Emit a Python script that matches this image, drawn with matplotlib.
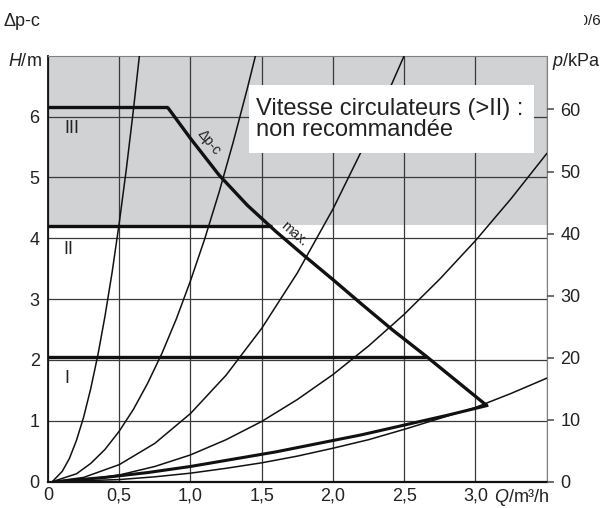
import matplotlib.pyplot as plt
from matplotlib.patches import Rectangle

plt.rcParams['font.family'] = ['Liberation Sans', 'DejaVu Sans']
plt.rcParams['mathtext.fontset'] = 'custom'
plt.rcParams['mathtext.rm'] = 'Liberation Sans'
plt.rcParams['mathtext.it'] = 'Liberation Sans:italic'

# pump speed curves (H in m, Q in m3/h)
q_III = [0, 0.84]
h_III = [6.15, 6.15]
q_II = [0, 1.57]
h_II = [4.20, 4.20]
q_I = [0, 2.66]
h_I = [2.05, 2.05]

# delta p-c / max line
q_max = [0.84, 1.0, 1.2, 1.4, 1.6, 1.8, 2.0, 2.2, 2.42, 2.66, 3.08]
h_max = [6.15, 5.64, 5.04, 4.54, 4.11, 3.71, 3.32, 2.92, 2.49, 2.05, 1.25]

# lower thick line (back to origin)
q_low = [3.08, 2.8, 2.5, 2.2, 1.9, 1.6, 1.3, 1.0, 0.7, 0.4, 0.15, 0.08]
h_low = [1.25, 1.09, 0.93, 0.77, 0.63, 0.49, 0.37, 0.25, 0.15, 0.07, 0.02, 0.0]

# system curves
q_s1 = [0.03, 0.1, 0.15, 0.2, 0.25, 0.3, 0.35, 0.4, 0.45, 0.5, 0.55, 0.6, 0.65]
h_s1 = [0.0, 0.17, 0.38, 0.68, 1.06, 1.53, 2.08, 2.72, 3.44, 4.25, 5.14, 6.12, 7.18]
q_s2 = [0.03, 0.2, 0.3, 0.4, 0.5, 0.6, 0.7, 0.8, 0.9, 1.0, 1.1, 1.2, 1.3, 1.4, 1.47]
h_s2 = [0.0, 0.13, 0.30, 0.53, 0.83, 1.19, 1.62, 2.11, 2.67, 3.3, 3.99, 4.75, 5.58, 6.47, 7.13]
q_s3 = [0.03, 0.25, 0.5, 0.75, 1.0, 1.25, 1.5, 1.75, 2.0, 2.25, 2.5, 2.55]
h_s3 = [0.0, 0.07, 0.28, 0.63, 1.12, 1.75, 2.52, 3.43, 4.48, 5.67, 7.0, 7.28]
q_s4 = [0.03, 0.25, 0.5, 0.75, 1.0, 1.25, 1.5, 1.75, 2.0, 2.25, 2.5, 2.75, 3.0, 3.25, 3.5]
h_s4 = [0.0, 0.03, 0.11, 0.25, 0.44, 0.69, 0.99, 1.35, 1.76, 2.23, 2.75, 3.33, 3.96, 4.65, 5.39]
q_s5 = [0.05, 0.5, 0.75, 1.0, 1.25, 1.5, 1.75, 2.0, 2.25, 2.5, 2.75, 3.0, 3.25, 3.5]
h_s5 = [0.0, 0.035, 0.08, 0.14, 0.22, 0.31, 0.42, 0.55, 0.69, 0.86, 1.04, 1.22, 1.45, 1.70]

x_ticks = [0, 0.5, 1.0, 1.5, 2.0, 2.5, 3.0, 3.5]
x_labels = ['0', '0,5', '1,0', '1,5', '2,0', '2,5', '3,0', '']
y_ticks = [0, 1, 2, 3, 4, 5, 6]
p_ticks = [0, 10, 20, 30, 40, 50, 60]

fig = plt.figure(figsize=(6.13, 5.08), dpi=100)
ax = fig.add_axes([0.0783, 0.0518, 0.8135, 0.8386])
ax.set_xlim(0, 3.5)
ax.set_ylim(0, 7)

ax.axhspan(4.22, 7, color='#d1d2d4', zorder=0, lw=0)
ax.set_axisbelow(True)
ax.grid(True, color='#3a3a3a', lw=0.9)

thin = dict(color='#111111', lw=1.1, zorder=3)
for q, h in [(q_s1, h_s1), (q_s2, h_s2), (q_s3, h_s3), (q_s4, h_s4), (q_s5, h_s5)]:
    ax.plot(q, h, **thin)

thick = dict(color='#111111', lw=2.4, zorder=4, solid_capstyle='butt')
ax.plot(q_III, h_III, **thick)
ax.plot(q_II, h_II, **thick)
ax.plot(q_I, h_I, **thick)
ax.plot(q_max, h_max, **thick)
ax.plot(q_low, h_low, color='#111111', lw=2.2, zorder=4)

# white note box
ax.add_patch(Rectangle((1.41, 5.40), 2.0, 1.12, fc='white', ec='none', zorder=5))
ax.text(1.46, 5.95, 'Vitesse circulateurs (>II) :\nnon recommandée', fontsize=17,
        va='center', ha='left', color='#222222', zorder=6, linespacing=0.95)

ax.text(0.17, 5.81, 'III', fontsize=13, ha='center', va='center', color='#222222')
ax.text(0.14, 3.81, 'II', fontsize=13, ha='center', va='center', color='#222222')
ax.text(0.13, 1.70, 'I', fontsize=13, ha='center', va='center', color='#222222')
ax.text(1.13, 5.58, 'Δp-c', fontsize=10, rotation=-50, ha='center', va='center',
        rotation_mode='anchor', color='#222222')
ax.text(1.73, 4.07, 'max.', fontsize=10, rotation=-41, ha='center', va='center',
        rotation_mode='anchor', color='#222222')

ax.set_xticks(x_ticks)
ax.set_xticklabels(x_labels)
ax.set_yticks(y_ticks)
ax.tick_params(length=0, labelsize=13, labelcolor='#222222')
ax.tick_params(axis='y', pad=6)
ax.tick_params(axis='x', pad=4)
ax.text(3.52, -0.012, '$Q$/m³/h', transform=ax.get_xaxis_transform(), fontsize=13,
        ha='right', va='top', color='#222222')

ax.spines['left'].set_color('#111111')
ax.spines['left'].set_linewidth(1.3)
ax.spines['bottom'].set_color('#111111')
ax.spines['bottom'].set_linewidth(1.6)
ax.spines['top'].set_color('#808080')
ax.spines['right'].set_color('#808080')

ax2 = ax.twinx()
ax2.set_ylim(0, 7 * 9.81)
ax2.set_yticks(p_ticks)
ax2.tick_params(length=5, width=1.2, color='#555555', labelsize=13,
                labelcolor='#222222', pad=5)
for s in ax2.spines.values():
    s.set_visible(False)

fig.text(0.013, 0.878, '$H$/m', fontsize=13, ha='left', va='center', color='#222222')
fig.text(0.900, 0.878, '$p$/kPa', fontsize=13, ha='left', va='center', color='#222222')
fig.text(0.005, 0.958, 'Δp-c', fontsize=13, ha='left', va='center', color='#222222')
fig.text(0.981, 0.958, '10/6', fontsize=11, ha='right', va='center', color='#222222')
fig.patches.append(Rectangle((0.90, 0.93), 0.053, 0.06, transform=fig.transFigure,
                             fc='white', ec='none', zorder=10))

fig.savefig('out.png', dpi=100)
